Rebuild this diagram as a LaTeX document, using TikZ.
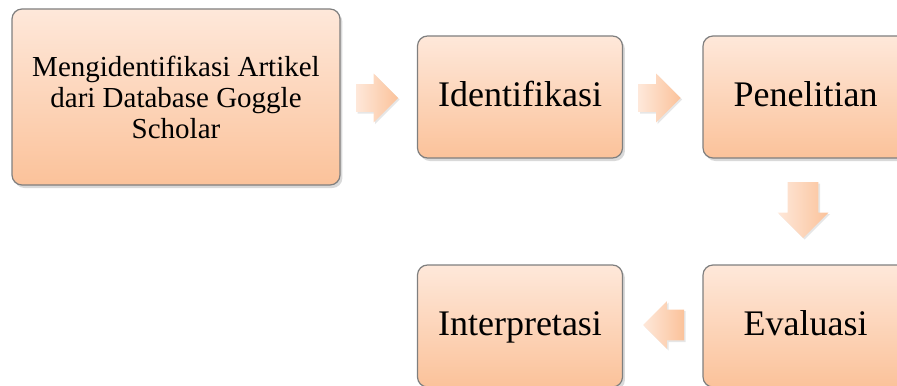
\documentclass[tikz,border=0pt]{standalone}
\usepackage{fontspec}
\setmainfont{Liberation Serif}
\usetikzlibrary{calc,positioning,shapes.arrows,shadows}
\definecolor{peachtop}{HTML}{FEE8DA}
\definecolor{peachbot}{HTML}{FBC29A}
\definecolor{rimgray}{HTML}{7F7F7F}

\tikzset{
  tahap/.style={draw=rimgray, line width=0.6pt, rounded corners=5pt,
    top color=peachtop, bottom color=peachbot,
    minimum width=102.5pt, minimum height=61pt, inner sep=2pt, align=center,
    font=\fontsize{18}{20}\selectfont,
    drop shadow={opacity=0.3, shadow xshift=1.2pt, shadow yshift=-1.5pt}},
  langkah/.style={tahap, text height=13pt, text depth=4pt},
  panah/.style={single arrow, draw=none, left color=peachtop, right color=peachbot,
    anchor=tail, minimum height=21pt, inner xsep=0pt, inner ysep=6.75pt,
    single arrow head extend=5.25pt,
    drop shadow={opacity=0.2, shadow xshift=0.8pt, shadow yshift=-0.8pt}}
}

\begin{document}
\begin{tikzpicture}[x=0.5pt,y=-0.5pt]
  \useasboundingbox (0,0) rectangle (897,385);
  \clip (0,0) rectangle (897,385);
  % tahapan
  \node[tahap, minimum width=164pt, minimum height=88pt,
        font=\fontsize{14.5}{15.5}\selectfont] (mengid) at (176,97)
        {Mengidentifikasi Artikel\\dari Database Goggle\\Scholar};
  \node[langkah] (identifikasi) at (520,97) {Identifikasi};
  \node[langkah] (penelitian) at (805.5,97) {Penelitian};
  \node[langkah] (evaluasi) at (805.5,326) {Evaluasi};
  \node[langkah] (interpretasi) at (520,326) {Interpretasi};
  % panah
  \node[panah] (p1) at ($(mengid.east)+(15,1)$) {};
  \node[panah] (p2) at ($(identifikasi.east)+(15,1)$) {};
  \node[panah, rotate=-90, minimum height=28pt, inner ysep=7.5pt,
        single arrow head extend=5pt] (p3) at ($(penelitian.south)+(-2.5,23)$) {};
  \node[panah, rotate=180, minimum height=20.5pt, inner ysep=7.5pt,
        single arrow head extend=4.25pt] (p4) at ($(evaluasi.west)+(-18,-1)$) {};
\end{tikzpicture}
\end{document}
